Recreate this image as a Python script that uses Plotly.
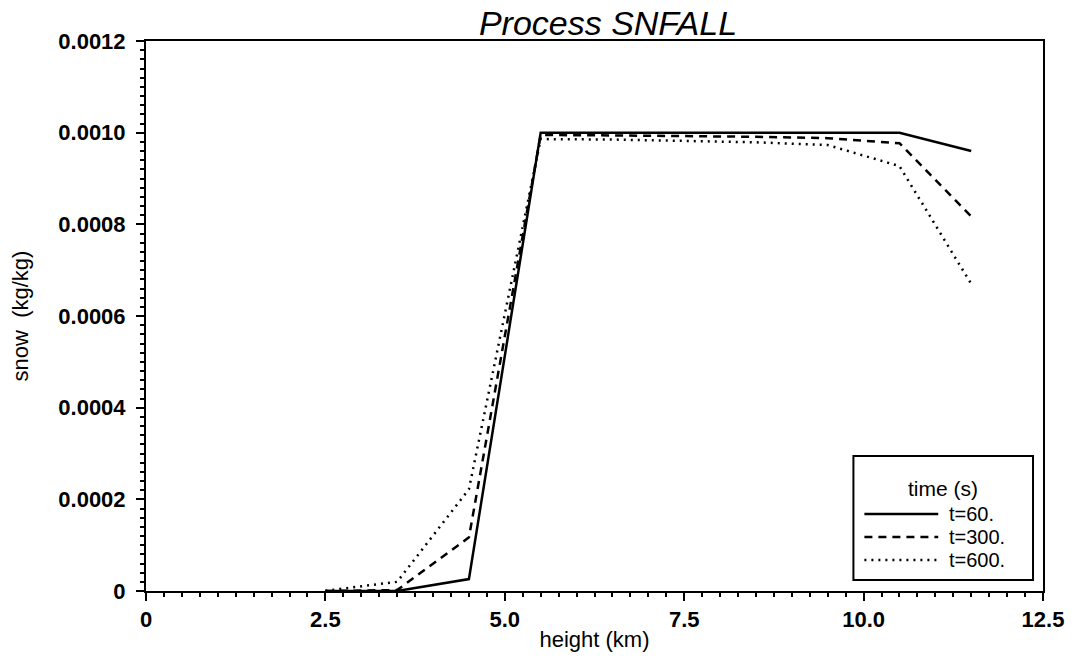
import plotly.graph_objects as go

height_km = [2.5, 3.5, 4.5, 5.5, 6.5, 7.5, 8.5, 9.5, 10.5, 11.5]
snow_t60 = [0, 0, 0.000026, 0.001, 0.001, 0.001, 0.001, 0.001, 0.001, 0.00096]
snow_t300 = [0, 0.000002, 0.000117, 0.000995, 0.000994, 0.000993, 0.000991, 0.000988, 0.000977, 0.000817]
snow_t600 = [0.0000005, 0.00002, 0.000222, 0.000986, 0.000985, 0.000982, 0.000979, 0.000973, 0.000927, 0.00067]

series_names = ["t=60.", "t=300.", "t=600."]
series_dash = ["solid", "8px,6px", "2px,5px"]

x_tickvals = [0, 2.5, 5.0, 7.5, 10.0, 12.5]
x_ticktext = ["0", "2.5", "5.0", "7.5", "10.0", "12.5"]
y_tickvals = [0, 0.0002, 0.0004, 0.0006, 0.0008, 0.0010, 0.0012]
y_ticktext = ["0", "0.0002", "0.0004", "0.0006", "0.0008", "0.0010", "0.0012"]

FONT = "Liberation Sans, Arial, Helvetica, sans-serif"

fig = go.Figure()
for name, ys, dash in zip(series_names, [snow_t60, snow_t300, snow_t600], series_dash):
    fig.add_trace(go.Scatter(x=height_km, y=ys, mode="lines", name=name,
                             line=dict(color="black", width=2.5, dash=dash),
                             showlegend=False, cliponaxis=True))

axis_common = dict(
    showgrid=False, zeroline=False, showline=True, linecolor="black", linewidth=2,
    mirror=True, ticks="outside", ticklen=8, tickwidth=2, tickcolor="black",
    tickfont=dict(family=FONT, size=22, color="black", weight="bold"),
    title_font=dict(family=FONT, size=22, color="black"),
)

fig.update_xaxes(range=[0, 12.5], tickmode="array", tickvals=x_tickvals, ticktext=x_ticktext,
                 minor=dict(dtick=0.25, tick0=0, ticks="outside", ticklen=4, tickwidth=2, tickcolor="black"),
                 title_text="height (km)", title_standoff=0, **axis_common)
fig.update_yaxes(range=[0, 0.0012], tickmode="array", tickvals=y_tickvals, ticktext=y_ticktext,
                 ticklabelstandoff=6,
                 minor=dict(dtick=0.00002, tick0=0, ticks="outside", ticklen=4, tickwidth=2, tickcolor="black"),
                 title_text="snow  (kg/kg)", title_standoff=24, **axis_common)

# Legend drawn manually (box, title, samples)
px_l, px_r, px_t, px_b = 146, 1045, 41, 591
def xp(px):
    return (px - px_l) / (px_r - px_l)
def yp(py):
    return (px_b - py) / (px_b - px_t)

shapes = [dict(type="rect", xref="paper", yref="paper", x0=xp(855), x1=xp(1035), y0=yp(580), y1=yp(456),
               line=dict(color="black", width=2), fillcolor="white", layer="above")]
annotations = [dict(text="time (s)", xref="paper", yref="paper", x=xp(945), y=yp(488), showarrow=False,
                    xanchor="center", yanchor="middle", font=dict(family=FONT, size=21, color="black"))]
rows = [514, 537, 560]
for name, dash, ry in zip(series_names, series_dash, rows):
    shapes.append(dict(type="line", xref="paper", yref="paper", x0=xp(866), x1=xp(940), y0=yp(ry), y1=yp(ry),
                       line=dict(color="black", width=2.5, dash=dash), layer="above"))
    annotations.append(dict(text=name, xref="paper", yref="paper", x=xp(949), y=yp(ry), showarrow=False,
                            xanchor="left", yanchor="middle", font=dict(family=FONT, size=20, color="black")))

fig.update_layout(
    width=1076, height=660,
    margin=dict(l=146, r=31, t=41, b=69),
    paper_bgcolor="white", plot_bgcolor="white",
    title=dict(text="<i>Process SNFALL</i>", x=608 / 1076, xanchor="center", y=1 - 23 / 660, yanchor="middle",
               font=dict(family=FONT, size=34, color="black")),
    shapes=shapes, annotations=annotations,
    showlegend=False,
)

fig.write_html("out.html")
